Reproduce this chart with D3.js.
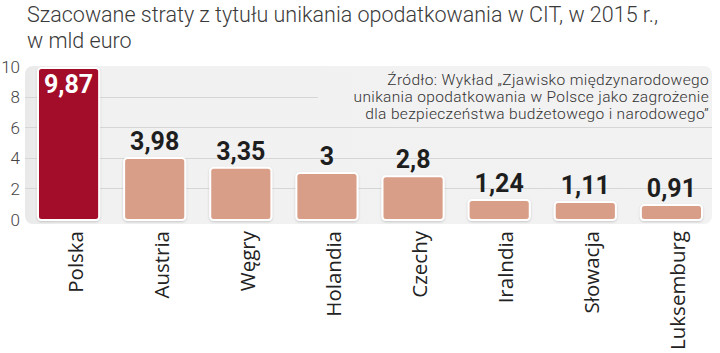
<!DOCTYPE html>
<html><head><meta charset="utf-8">
<script src="https://cdn.jsdelivr.net/npm/d3@7"></script>
<style>
html,body{margin:0;padding:0;background:#fff;}
svg{display:block;}
</style></head>
<body>
<script>
const categories = ["Polska","Austria","Węgry","Holandia","Czechy","Iralndia","Słowacja","Luksemburg"];
const values = [9.87,3.98,3.35,3,2.8,1.24,1.11,0.91];
const valueLabels = ["9,87","3,98","3,35","3","2,8","1,24","1,11","0,91"];
const yTicks = [0,2,4,6,8,10];
const titleLines = ["Szacowane straty z tytułu unikania opodatkowania w CIT, w 2015 r.,","w mld euro"];
const sourceLines = ["Źródło: Wykład „Zjawisko międzynarodowego","unikania opodatkowania w Polsce jako zagrożenie","dla bezpieczeństwa budżetowego i narodowego”"];

const W=720,H=353;
const svg=d3.select("body").append("svg").attr("width",W).attr("height",H);
const defs=svg.append("defs");
const f=defs.append("filter").attr("id","sh").attr("x","-20%").attr("y","-20%").attr("width","140%").attr("height","140%");
f.append("feDropShadow").attr("dx",0).attr("dy",1).attr("stdDeviation",1.2).attr("flood-color","#000").attr("flood-opacity",0.18);
const g=defs.append("linearGradient").attr("id","pg").attr("x1",0).attr("x2",1).attr("y1",0).attr("y2",0);
g.append("stop").attr("offset","0").attr("stop-color","#e9e9e9");
g.append("stop").attr("offset","0.05").attr("stop-color","#f1f1f1");
g.append("stop").attr("offset","1").attr("stop-color","#f2f2f2");

const x=d3.scaleBand().domain(categories).range([25.5,714.5]).paddingInner(0.29).paddingOuter(0.145);
const y=d3.scaleLinear().domain([0,10]).range([219,66]);

// title
svg.append("g").selectAll("text").data(titleLines).join("text")
  .attr("x",27).attr("y",(d,i)=>22+i*26)
  .attr("font-family","Roboto").attr("font-weight",300).attr("font-size",21.5)
  .attr("fill","#3a3a3a").text(d=>d);

// panel
svg.append("rect").attr("x",25).attr("y",66).attr("width",687).attr("height",158).attr("rx",8)
  .attr("fill","url(#pg)");

// gridlines
svg.append("g").selectAll("line").data(yTicks.filter(t=>t>0&&t<10)).join("line")
  .attr("x1",25).attr("x2",d=>d===8?318:712)
  .attr("y1",d=>Math.round(y(d))+0.5).attr("y2",d=>Math.round(y(d))+0.5)
  .attr("stroke","#d6d6d6").attr("stroke-width",1);

// y axis labels
const yAxis=d3.axisLeft(y).tickValues(yTicks).tickSize(0).tickPadding(0).tickFormat(d3.format("d"));
const ya=svg.append("g").attr("transform","translate(20,0)").call(yAxis);
ya.select(".domain").remove();
ya.selectAll("text").attr("font-family","Roboto").attr("font-weight",300).attr("font-size",17).attr("fill","#444").attr("dy","0.36em");

// source
svg.append("g").selectAll("text").data(sourceLines).join("text")
  .attr("x",709).attr("y",(d,i)=>85+i*17).attr("text-anchor","end")
  .attr("font-family","Roboto").attr("font-weight",300).attr("font-size",15.5)
  .attr("letter-spacing",0.35)
  .attr("fill","#333").text(d=>d);

// bars
svg.append("g").selectAll("rect").data(values).join("rect")
  .attr("x",(d,i)=>x(categories[i])).attr("width",x.bandwidth())
  .attr("y",d=>y(d)).attr("height",d=>y(0)-y(d)+1)
  .attr("rx",3.5)
  .attr("fill",(d,i)=>i===0?"#a30e2c":"#d99e88")
  .attr("stroke","#fff").attr("stroke-width",2)
  .attr("filter","url(#sh)");

// value labels
svg.append("g").selectAll("text").data(values).join("text")
  .attr("x",(d,i)=>x(categories[i])+x.bandwidth()/2)
  .attr("y",(d,i)=>i===0?y(d)+25:y(d)-8)
  .attr("text-anchor","middle")
  .attr("font-family","Roboto").attr("font-weight",700).attr("font-size",25)
  .attr("fill",(d,i)=>i===0?"#fff":"#1e1e1e")
  .text((d,i)=>valueLabels[i]);

// category labels
svg.append("g").selectAll("text").data(categories).join("text")
  .attr("transform",d=>`translate(${x(d)+x.bandwidth()/2+14},231) rotate(-90)`)
  .attr("text-anchor","end")
  .attr("font-family","Open Sans").attr("font-size",20.5)
  .attr("fill","#222").text(d=>d);
</script>
</body></html>
